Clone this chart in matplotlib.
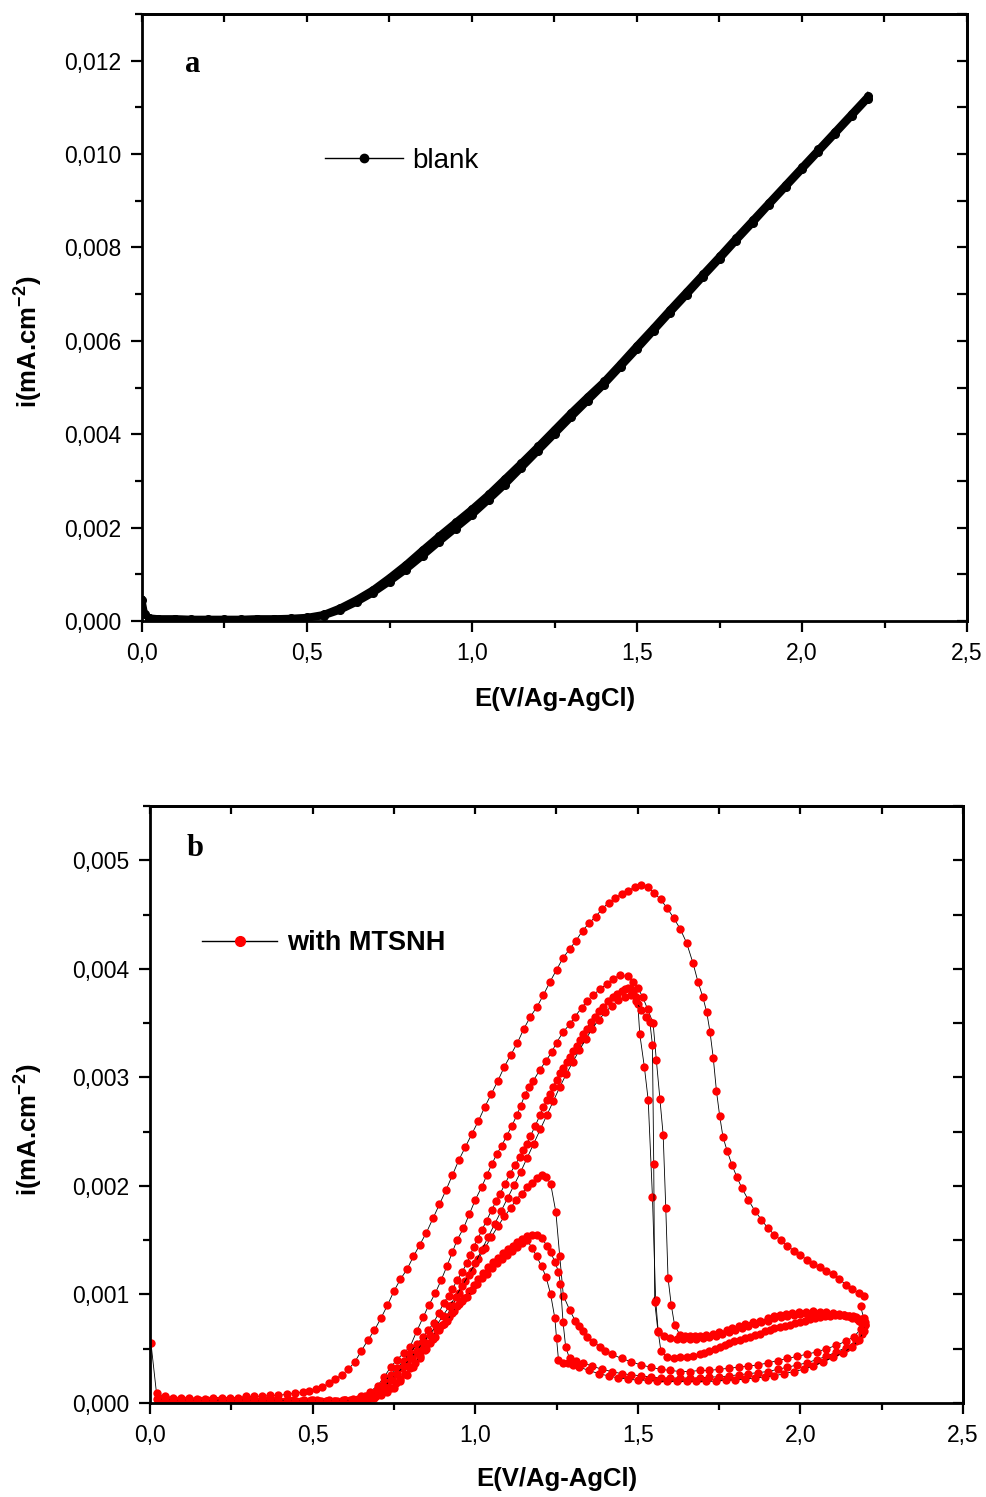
import numpy as np
import matplotlib
matplotlib.use("Agg")
import matplotlib.pyplot as plt
from matplotlib.lines import Line2D
from matplotlib.ticker import MultipleLocator, FuncFormatter, NullFormatter

plt.rcParams['font.family'] = ['Liberation Sans', 'DejaVu Sans']
plt.rcParams['mathtext.fontset'] = 'custom'
plt.rcParams['mathtext.rm'] = 'Liberation Sans'
plt.rcParams['mathtext.bf'] = 'Liberation Sans:bold'

# current values in uA.cm-2 (converted to mA.cm-2 when drawn), potential in V
# panel a : blank, two branches of the cyclic scan
blank_lower = [(0.0, 0.45), (0.008, 0.15), (0.02, 0.06), (0.05, 0.04), (0.1, 0.04), (0.15, 0.03), (0.2, 0.03),
               (0.25, 0.03), (0.3, 0.03), (0.35, 0.04), (0.4, 0.04), (0.45, 0.05), (0.5, 0.06), (0.55, 0.11),
               (0.6, 0.23), (0.65, 0.40), (0.7, 0.60), (0.75, 0.84), (0.8, 1.10), (0.85, 1.39), (0.9, 1.69),
               (0.95, 1.98), (1.0, 2.27), (1.05, 2.59), (1.1, 2.92), (1.15, 3.28), (1.2, 3.64), (1.25, 4.00),
               (1.3, 4.36), (1.35, 4.71), (1.4, 5.06), (1.45, 5.44), (1.5, 5.82), (1.55, 6.21), (1.6, 6.60),
               (1.65, 6.98), (1.7, 7.37), (1.75, 7.75), (1.8, 8.14), (1.85, 8.52), (1.9, 8.91), (1.95, 9.29),
               (2.0, 9.67), (2.05, 10.05), (2.1, 10.43), (2.15, 10.81), (2.2, 11.19)]
blank_upper = [(2.2, 11.24), (2.15, 10.86), (2.1, 10.48), (2.05, 10.10), (2.0, 9.72), (1.95, 9.34), (1.9, 8.96),
               (1.85, 8.58), (1.8, 8.20), (1.75, 7.81), (1.7, 7.43), (1.65, 7.05), (1.6, 6.67), (1.55, 6.28),
               (1.5, 5.90), (1.45, 5.51), (1.4, 5.13), (1.35, 4.80), (1.3, 4.46), (1.25, 4.10), (1.2, 3.74),
               (1.15, 3.39), (1.1, 3.05), (1.05, 2.71), (1.0, 2.40), (0.95, 2.11), (0.9, 1.82), (0.85, 1.52),
               (0.8, 1.21), (0.75, 0.93), (0.7, 0.67), (0.65, 0.46), (0.6, 0.28), (0.55, 0.14), (0.5, 0.08),
               (0.45, 0.06), (0.4, 0.05), (0.35, 0.05), (0.3, 0.04), (0.25, 0.04), (0.2, 0.04), (0.15, 0.04),
               (0.1, 0.05), (0.05, 0.05), (0.02, 0.07)]

# panel b : with MTSNH, forward and reverse branches
mtsnh_fwd1 = [(0.003, 0.55), (0.02, 0.09), (0.045, 0.06), (0.07, 0.05), (0.095, 0.05), (0.12, 0.05), (0.145, 0.04),
              (0.17, 0.04), (0.195, 0.05), (0.22, 0.05), (0.245, 0.05), (0.27, 0.05), (0.295, 0.06), (0.32, 0.06),
              (0.345, 0.06), (0.37, 0.07), (0.395, 0.07), (0.42, 0.08), (0.445, 0.09), (0.47, 0.10), (0.49, 0.11),
              (0.51, 0.13), (0.53, 0.15), (0.55, 0.18), (0.57, 0.22), (0.59, 0.26), (0.61, 0.31), (0.63, 0.38),
              (0.65, 0.48), (0.67, 0.58), (0.69, 0.67), (0.71, 0.78), (0.73, 0.90), (0.75, 1.03), (0.77, 1.14),
              (0.79, 1.23), (0.81, 1.35), (0.83, 1.46), (0.85, 1.57), (0.87, 1.70), (0.89, 1.83), (0.91, 1.96),
              (0.93, 2.10), (0.95, 2.24), (0.97, 2.36), (0.99, 2.48), (1.01, 2.60), (1.03, 2.73), (1.05, 2.85),
              (1.07, 2.97), (1.09, 3.10), (1.11, 3.21), (1.13, 3.32), (1.15, 3.45), (1.17, 3.56), (1.19, 3.65),
              (1.21, 3.76), (1.23, 3.88), (1.25, 3.99), (1.27, 4.10), (1.29, 4.18), (1.31, 4.26), (1.33, 4.35),
              (1.35, 4.42), (1.37, 4.48), (1.39, 4.55), (1.41, 4.61), (1.43, 4.65), (1.45, 4.69), (1.47, 4.72),
              (1.49, 4.75), (1.51, 4.77), (1.53, 4.75), (1.55, 4.70), (1.57, 4.64), (1.59, 4.56), (1.61, 4.47),
              (1.63, 4.37), (1.65, 4.24), (1.67, 4.05), (1.685, 3.88), (1.70, 3.74), (1.712, 3.60), (1.722, 3.42),
              (1.732, 3.18), (1.742, 2.87), (1.752, 2.64), (1.762, 2.45), (1.775, 2.32), (1.79, 2.19), (1.805, 2.08),
              (1.82, 1.98), (1.84, 1.87), (1.86, 1.77), (1.88, 1.69), (1.90, 1.61), (1.92, 1.55), (1.94, 1.50),
              (1.96, 1.45), (1.98, 1.40), (2.00, 1.36), (2.02, 1.32), (2.04, 1.28), (2.06, 1.25), (2.08, 1.22),
              (2.10, 1.19), (2.12, 1.14), (2.14, 1.09), (2.16, 1.05), (2.18, 1.01), (2.197, 0.99)]
mtsnh_rev1 = [(2.185, 0.89), (2.195, 0.78), (2.185, 0.68), (2.165, 0.61), (2.14, 0.57), (2.11, 0.53), (2.08, 0.50),
              (2.05, 0.47), (2.02, 0.45), (1.99, 0.43), (1.96, 0.41), (1.93, 0.39), (1.90, 0.37), (1.87, 0.35),
              (1.84, 0.34), (1.81, 0.33), (1.78, 0.32), (1.75, 0.31), (1.72, 0.30), (1.69, 0.30), (1.66, 0.29),
              (1.63, 0.29), (1.60, 0.30), (1.57, 0.31), (1.54, 0.33), (1.51, 0.35), (1.48, 0.38), (1.45, 0.41),
              (1.42, 0.45), (1.40, 0.48), (1.384, 0.52), (1.363, 0.56), (1.345, 0.61), (1.332, 0.66), (1.32, 0.71),
              (1.307, 0.76), (1.29, 0.86), (1.271, 0.99), (1.26, 1.35), (1.248, 1.76), (1.232, 2.02), (1.218, 2.08),
              (1.204, 2.10), (1.19, 2.07), (1.175, 2.03), (1.16, 1.99), (1.143, 1.93), (1.125, 1.87), (1.11, 1.80),
              (1.09, 1.72), (1.07, 1.63), (1.05, 1.53), (1.03, 1.43), (1.01, 1.33), (0.99, 1.22), (0.97, 1.12),
              (0.95, 1.01), (0.93, 0.90), (0.91, 0.79), (0.89, 0.69), (0.87, 0.59), (0.85, 0.50), (0.83, 0.41),
              (0.81, 0.33), (0.79, 0.26), (0.77, 0.20), (0.75, 0.14), (0.73, 0.10), (0.71, 0.07), (0.69, 0.05),
              (0.67, 0.04), (0.65, 0.03), (0.625, 0.03), (0.60, 0.03), (0.575, 0.02), (0.55, 0.03), (0.525, 0.02),
              (0.50, 0.03), (0.475, 0.03), (0.45, 0.02), (0.425, 0.03), (0.40, 0.02), (0.375, 0.03), (0.35, 0.03),
              (0.325, 0.02), (0.30, 0.03), (0.275, 0.02), (0.25, 0.03), (0.225, 0.03), (0.20, 0.02), (0.175, 0.03),
              (0.15, 0.03), (0.125, 0.02), (0.10, 0.03), (0.075, 0.03), (0.05, 0.04), (0.025, 0.05)]
mtsnh_fwd2 = [(0.60, 0.03), (0.625, 0.04), (0.65, 0.06), (0.675, 0.10), (0.70, 0.16), (0.72, 0.24), (0.74, 0.33),
              (0.76, 0.40), (0.78, 0.46), (0.80, 0.52), (0.82, 0.66), (0.84, 0.79), (0.857, 0.90), (0.877, 1.01),
              (0.895, 1.13), (0.913, 1.26), (0.93, 1.39), (0.944, 1.50), (0.964, 1.61), (0.982, 1.74), (1.0, 1.87),
              (1.02, 1.99), (1.036, 2.10), (1.051, 2.20), (1.066, 2.29), (1.081, 2.37), (1.097, 2.46), (1.112, 2.55),
              (1.128, 2.65), (1.14, 2.74), (1.153, 2.84), (1.166, 2.91), (1.179, 2.97), (1.199, 3.07), (1.217, 3.15),
              (1.235, 3.23), (1.25, 3.32), (1.271, 3.42), (1.291, 3.49), (1.307, 3.56), (1.327, 3.64), (1.343, 3.70),
              (1.363, 3.76), (1.383, 3.81), (1.404, 3.86), (1.424, 3.91), (1.445, 3.94), (1.47, 3.93), (1.486, 3.88),
              (1.501, 3.82), (1.515, 3.74), (1.53, 3.63), (1.547, 3.50), (1.557, 3.16), (1.568, 2.80), (1.578, 2.47),
              (1.586, 1.80), (1.593, 1.15), (1.603, 0.90), (1.613, 0.72), (1.629, 0.63), (1.645, 0.62), (1.66, 0.62),
              (1.675, 0.62), (1.691, 0.62), (1.71, 0.63), (1.73, 0.64), (1.75, 0.65), (1.773, 0.67), (1.79, 0.69),
              (1.81, 0.71), (1.83, 0.73), (1.855, 0.75), (1.875, 0.76), (1.90, 0.78), (1.92, 0.80), (1.937, 0.81),
              (1.955, 0.82), (1.975, 0.83), (1.995, 0.84), (2.018, 0.84), (2.04, 0.85), (2.06, 0.84), (2.08, 0.84),
              (2.10, 0.83), (2.12, 0.82), (2.135, 0.81), (2.15, 0.80), (2.162, 0.79), (2.175, 0.77), (2.185, 0.75),
              (2.192, 0.73)]
mtsnh_rev2 = [(2.20, 0.72), (2.19, 0.64), (2.17, 0.57), (2.14, 0.51), (2.11, 0.47), (2.08, 0.43), (2.05, 0.40),
              (2.02, 0.37), (1.99, 0.35), (1.96, 0.33), (1.93, 0.31), (1.90, 0.29), (1.87, 0.28), (1.84, 0.27),
              (1.81, 0.26), (1.78, 0.25), (1.75, 0.24), (1.72, 0.24), (1.69, 0.23), (1.66, 0.23), (1.63, 0.23),
              (1.60, 0.23), (1.57, 0.23), (1.54, 0.24), (1.51, 0.25), (1.48, 0.26), (1.45, 0.27), (1.42, 0.29),
              (1.39, 0.31), (1.36, 0.34), (1.332, 0.37), (1.31, 0.39), (1.29, 0.41), (1.278, 0.52), (1.27, 0.75),
              (1.262, 1.10), (1.256, 1.21), (1.245, 1.30), (1.232, 1.39), (1.22, 1.45), (1.205, 1.52), (1.19, 1.55),
              (1.175, 1.55), (1.16, 1.54), (1.145, 1.51), (1.13, 1.48), (1.115, 1.45), (1.10, 1.42), (1.085, 1.38),
              (1.07, 1.34), (1.055, 1.30), (1.04, 1.25), (1.025, 1.20), (1.01, 1.14), (0.995, 1.09), (0.98, 1.03),
              (0.965, 0.97), (0.95, 0.91), (0.935, 0.85), (0.92, 0.79), (0.905, 0.73), (0.89, 0.67), (0.875, 0.61),
              (0.86, 0.55), (0.845, 0.49), (0.83, 0.43), (0.815, 0.37), (0.80, 0.32), (0.785, 0.27), (0.77, 0.22),
              (0.755, 0.18), (0.74, 0.14), (0.725, 0.11), (0.71, 0.08), (0.695, 0.06), (0.68, 0.05), (0.66, 0.04),
              (0.64, 0.03), (0.615, 0.03), (0.59, 0.02), (0.565, 0.02), (0.54, 0.02), (0.515, 0.03), (0.49, 0.02),
              (0.465, 0.02), (0.44, 0.03), (0.415, 0.02), (0.39, 0.02), (0.365, 0.03), (0.34, 0.02), (0.315, 0.02),
              (0.29, 0.03), (0.265, 0.02), (0.24, 0.02), (0.215, 0.03), (0.19, 0.02), (0.165, 0.02), (0.14, 0.03),
              (0.115, 0.02), (0.09, 0.03), (0.065, 0.03), (0.04, 0.03)]
mtsnh_fwd3 = [(0.60, 0.02), (0.62, 0.03), (0.64, 0.04), (0.66, 0.06), (0.68, 0.09), (0.70, 0.13), (0.72, 0.19),
              (0.74, 0.26), (0.76, 0.32), (0.78, 0.39), (0.80, 0.46), (0.82, 0.54), (0.84, 0.61), (0.856, 0.67),
              (0.872, 0.74), (0.888, 0.83), (0.903, 0.92), (0.918, 0.99), (0.93, 1.05), (0.944, 1.13), (0.96, 1.21),
              (0.975, 1.29), (0.985, 1.36), (0.995, 1.44), (1.008, 1.51), (1.02, 1.59), (1.035, 1.68), (1.051, 1.78),
              (1.064, 1.86), (1.077, 1.93), (1.092, 2.02), (1.107, 2.11), (1.122, 2.19), (1.138, 2.27), (1.148, 2.33),
              (1.159, 2.39), (1.17, 2.46), (1.184, 2.55), (1.199, 2.65), (1.21, 2.73), (1.22, 2.79), (1.23, 2.85),
              (1.24, 2.91), (1.25, 2.98), (1.261, 3.04), (1.271, 3.09), (1.281, 3.14), (1.292, 3.19), (1.302, 3.24),
              (1.312, 3.29), (1.322, 3.34), (1.333, 3.40), (1.343, 3.45), (1.355, 3.51), (1.368, 3.56), (1.381, 3.61),
              (1.394, 3.65), (1.409, 3.70), (1.424, 3.74), (1.437, 3.77), (1.45, 3.80), (1.46, 3.81), (1.47, 3.82),
              (1.478, 3.81), (1.486, 3.79), (1.495, 3.74), (1.50, 3.68), (1.506, 3.40), (1.52, 3.10), (1.532, 2.79),
              (1.545, 1.90), (1.555, 0.95), (1.563, 0.65), (1.571, 0.48), (1.589, 0.42), (1.61, 0.41), (1.63, 0.42),
              (1.65, 0.42), (1.67, 0.43), (1.691, 0.45), (1.705, 0.46), (1.72, 0.48), (1.737, 0.50), (1.753, 0.52),
              (1.767, 0.53), (1.78, 0.55), (1.797, 0.57), (1.814, 0.58), (1.83, 0.60), (1.845, 0.61), (1.86, 0.63),
              (1.875, 0.64), (1.89, 0.66), (1.905, 0.67), (1.92, 0.69), (1.937, 0.70), (1.952, 0.71), (1.968, 0.72),
              (1.983, 0.74), (1.998, 0.75), (2.015, 0.76), (2.03, 0.77), (2.045, 0.78), (2.059, 0.79), (2.075, 0.80),
              (2.09, 0.80), (2.105, 0.81), (2.121, 0.81), (2.135, 0.81), (2.15, 0.80), (2.163, 0.80), (2.172, 0.79),
              (2.185, 0.77), (2.192, 0.74), (2.20, 0.72)]
mtsnh_rev3 = [(2.20, 0.75), (2.195, 0.66), (2.18, 0.58), (2.16, 0.52), (2.13, 0.46), (2.10, 0.42), (2.07, 0.38),
              (2.04, 0.34), (2.01, 0.31), (1.98, 0.29), (1.95, 0.27), (1.92, 0.25), (1.89, 0.24), (1.86, 0.23),
              (1.83, 0.22), (1.80, 0.21), (1.77, 0.21), (1.74, 0.20), (1.71, 0.20), (1.68, 0.20), (1.65, 0.20),
              (1.62, 0.20), (1.59, 0.20), (1.56, 0.20), (1.53, 0.21), (1.50, 0.21), (1.47, 0.22), (1.44, 0.23),
              (1.41, 0.25), (1.38, 0.27), (1.35, 0.30), (1.32, 0.33), (1.30, 0.35), (1.285, 0.37), (1.271, 0.37),
              (1.256, 0.40), (1.25, 0.60), (1.245, 0.78), (1.232, 1.00), (1.218, 1.16), (1.204, 1.26), (1.189, 1.35),
              (1.175, 1.43), (1.159, 1.50), (1.143, 1.47), (1.128, 1.44), (1.112, 1.40), (1.097, 1.36), (1.081, 1.33),
              (1.066, 1.29), (1.051, 1.24), (1.036, 1.19), (1.02, 1.15), (1.005, 1.10), (0.99, 1.04), (0.975, 0.98),
              (0.96, 0.94), (0.944, 0.89), (0.93, 0.83), (0.913, 0.76), (0.898, 0.72), (0.883, 0.67), (0.868, 0.61),
              (0.852, 0.55), (0.837, 0.50), (0.821, 0.46), (0.805, 0.41), (0.79, 0.37), (0.775, 0.32), (0.76, 0.27),
              (0.745, 0.22), (0.729, 0.18), (0.713, 0.15), (0.698, 0.12), (0.683, 0.09), (0.668, 0.06), (0.655, 0.04),
              (0.64, 0.03), (0.62, 0.02), (0.595, 0.03), (0.57, 0.02), (0.545, 0.02), (0.52, 0.02), (0.495, 0.03),
              (0.47, 0.02), (0.445, 0.02), (0.42, 0.02), (0.395, 0.03), (0.37, 0.02), (0.345, 0.02), (0.32, 0.02),
              (0.295, 0.03), (0.27, 0.02), (0.245, 0.02), (0.22, 0.03), (0.195, 0.02), (0.17, 0.02), (0.145, 0.02),
              (0.12, 0.03), (0.095, 0.02), (0.07, 0.03), (0.045, 0.03), (0.02, 0.04)]
mtsnh_fwd4 = [(0.62, 0.02), (0.64, 0.03), (0.66, 0.04), (0.68, 0.07), (0.70, 0.10), (0.72, 0.15), (0.74, 0.21),
              (0.76, 0.27), (0.78, 0.34), (0.80, 0.41), (0.82, 0.48), (0.84, 0.56), (0.86, 0.63), (0.88, 0.71),
              (0.90, 0.80), (0.92, 0.89), (0.94, 0.98), (0.96, 1.08), (0.98, 1.18), (1.00, 1.29), (1.02, 1.41),
              (1.04, 1.53), (1.06, 1.65), (1.08, 1.77), (1.10, 1.89), (1.12, 2.01), (1.14, 2.13), (1.16, 2.26),
              (1.18, 2.39), (1.20, 2.52), (1.22, 2.65), (1.24, 2.78), (1.26, 2.91), (1.28, 3.03), (1.30, 3.14),
              (1.32, 3.25), (1.34, 3.35), (1.36, 3.45), (1.38, 3.53), (1.40, 3.60), (1.42, 3.66), (1.44, 3.71),
              (1.46, 3.74), (1.48, 3.76), (1.495, 3.70), (1.51, 3.62), (1.524, 3.56), (1.537, 3.51), (1.545, 3.30),
              (1.549, 2.20), (1.552, 0.93), (1.562, 0.66), (1.58, 0.62), (1.60, 0.60), (1.62, 0.59), (1.64, 0.59),
              (1.66, 0.59), (1.68, 0.59), (1.70, 0.60), (1.72, 0.61), (1.74, 0.62), (1.76, 0.64), (1.78, 0.65),
              (1.80, 0.67), (1.82, 0.69), (1.84, 0.71), (1.86, 0.73), (1.88, 0.75), (1.90, 0.76), (1.92, 0.78),
              (1.94, 0.79), (1.96, 0.80), (1.98, 0.81), (2.00, 0.82), (2.02, 0.82), (2.04, 0.83), (2.06, 0.83),
              (2.08, 0.82), (2.10, 0.82), (2.12, 0.81), (2.14, 0.80), (2.16, 0.78), (2.18, 0.76), (2.195, 0.74)]

blank_branches = [blank_lower, blank_upper]
mtsnh_branches = [mtsnh_fwd1, mtsnh_rev1, mtsnh_fwd2, mtsnh_rev2, mtsnh_fwd3, mtsnh_rev3, mtsnh_fwd4]


def comma(fmt):
    return FuncFormatter(lambda v, p: (fmt % v).replace('.', ','))


def style_axes(ax, ymax, ystep, yminor):
    ax.set_xlim(0, 2.5)
    ax.set_ylim(0, ymax)
    ax.xaxis.set_major_locator(MultipleLocator(0.5))
    ax.xaxis.set_minor_locator(MultipleLocator(0.25))
    ax.yaxis.set_major_locator(MultipleLocator(ystep))
    ax.yaxis.set_minor_locator(MultipleLocator(yminor))
    ax.xaxis.set_major_formatter(comma('%.1f'))
    ax.yaxis.set_major_formatter(comma('%.3f'))
    ax.tick_params(which='both', direction='out', width=1.6, labelsize=16.5, pad=7)
    ax.tick_params(which='major', length=8)
    ax.tick_params(which='minor', length=5)
    for s in ax.spines.values():
        s.set_linewidth(2)
    # top and right ticks point inwards
    top = ax.secondary_xaxis('top')
    top.xaxis.set_major_locator(MultipleLocator(0.5))
    top.xaxis.set_minor_locator(MultipleLocator(0.25))
    top.xaxis.set_major_formatter(NullFormatter())
    top.tick_params(which='both', direction='in', width=1.6, length=6)
    top.spines['top'].set_linewidth(2)
    right = ax.secondary_yaxis('right')
    right.yaxis.set_major_locator(MultipleLocator(ystep))
    right.yaxis.set_minor_locator(MultipleLocator(yminor))
    right.yaxis.set_major_formatter(NullFormatter())
    right.tick_params(which='both', direction='in', width=1.6, length=7)
    right.spines['right'].set_linewidth(2)
    ax.set_xlabel('E(V/Ag-AgCl)', fontsize=18.5, fontweight='bold')
    ax.set_ylabel(r'i(mA.cm$^{\mathbf{-2}}$)', fontsize=18.5, fontweight='bold')


fig = plt.figure(figsize=(9.87, 14.97), dpi=100)
ax_a = fig.add_axes([142 / 987, 1 - 621 / 1497, 825 / 987, 607 / 1497])
ax_b = fig.add_axes([150 / 987, 1 - 1403 / 1497, 813 / 987, 597 / 1497])

# panel a
for br in blank_branches:
    E, I = np.array(br).T
    ax_a.plot(E, I / 1000, color='k', lw=5, marker='o', ms=5.5, mfc='k', mec='k')
style_axes(ax_a, 0.013, 0.002, 0.001)
ax_a.xaxis.set_label_coords(0.5, -0.108)
ax_a.yaxis.set_label_coords(-0.119, 0.46)
ax_a.text(0.052, 0.916, 'a', transform=ax_a.transAxes, fontsize=22, fontweight='bold',
          family='Liberation Serif', va='center', ha='left')
h_a = Line2D([0], [0], color='k', lw=1, marker='o', ms=6, mfc='k', mec='k')
ax_a.legend([h_a], ['blank'], loc='center left', bbox_to_anchor=(0.2218, 0.7578), frameon=False,
            fontsize=20, handlelength=2.8, handletextpad=0.33, borderpad=0, borderaxespad=0)

# panel b
for br in mtsnh_branches:
    E, I = np.array(br).T
    ax_b.plot(E, I / 1000, color='k', lw=0.6, marker='o', ms=6, mfc='red', mec='red', mew=0)
style_axes(ax_b, 0.0055, 0.001, 0.0005)
ax_b.xaxis.set_label_coords(0.5, -0.108)
ax_b.yaxis.set_label_coords(-0.130, 0.457)
ax_b.text(0.0455, 0.9296, 'b', transform=ax_b.transAxes, fontsize=22, fontweight='bold',
          family='Liberation Serif', va='center', ha='left')
h_b = Line2D([0], [0], color='k', lw=1, marker='o', ms=7, mfc='red', mec='red')
ax_b.legend([h_b], ['with MTSNH'], loc='center left', bbox_to_anchor=(0.064, 0.7705), frameon=False,
            prop={'size': 19.5, 'weight': 'bold'}, handlelength=2.77, handletextpad=0.37,
            borderpad=0, borderaxespad=0)

fig.savefig('out.png', dpi=100)
